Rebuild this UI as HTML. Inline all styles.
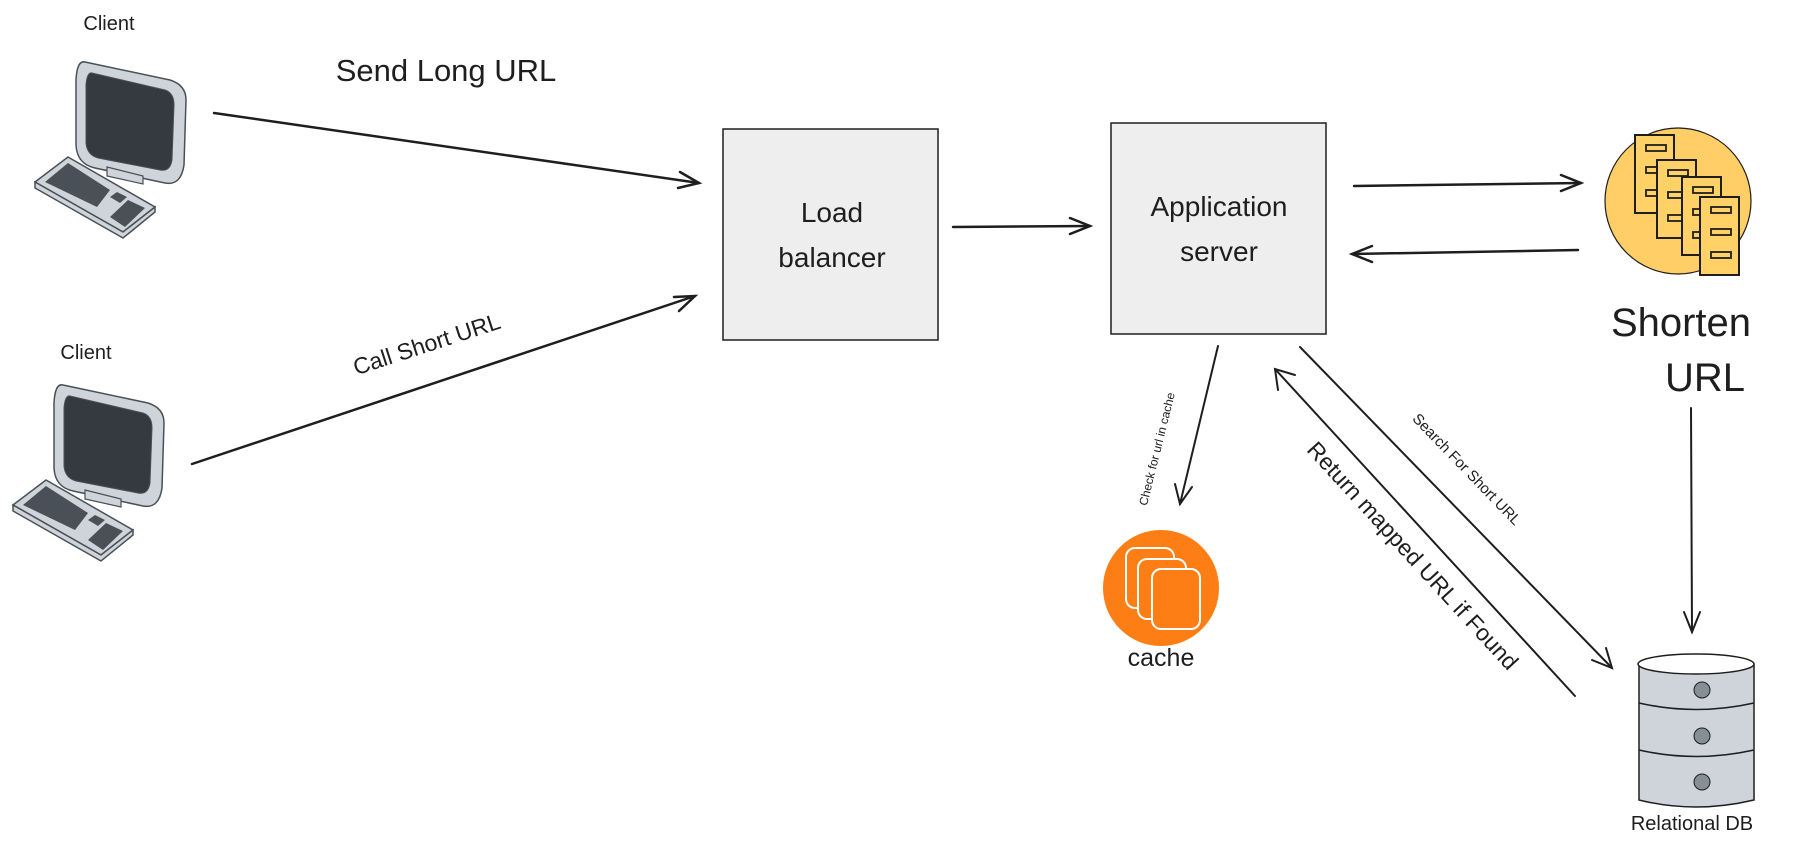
<!DOCTYPE html>
<html><head><meta charset="utf-8"><style>
html,body{margin:0;padding:0;background:#fff;}
svg{display:block;}
text{font-family:"Liberation Sans",sans-serif;fill:#1e1e1e;}
</style></head><body>
<svg width="1796" height="850" viewBox="0 0 1796 850" xmlns="http://www.w3.org/2000/svg">
<defs>
<g id="pc">
  <path d="M85,62 L170,80 Q186,85 186,100 L184,165 Q181,186 165,183 L95,168 Q77,164 76,145 L76,80 Q77,60 85,62 Z" fill="#ced4da" stroke="#495057" stroke-width="1.5"/>
  <path d="M92,73 L165,90 Q174,93 174,105 L172,160 Q170,172 160,170 L98,158 Q87,155 86,143 L86,85 Q87,72 92,73 Z" fill="#343a40" stroke="#495057" stroke-width="1"/>
  <path d="M107,167 L143,176 L143,184 L107,176 Z" fill="#ced4da" stroke="#495057" stroke-width="1.2"/>
  <path d="M35,182 L68,157 L155,207 L123,232 Z" fill="#ced4da" stroke="#495057" stroke-width="1.5"/>
  <path d="M35,182 L35,188 L123,238 L155,212 L155,207 L123,232 Z" fill="#ced4da" stroke="#495057" stroke-width="1.5"/>
  <path d="M45,182 L68,163 L110,190 L97,207 Z" fill="#495057"/>
  <path d="M110,197 L117,192 L127,197 L120,203 Z" fill="#495057"/>
  <path d="M110,217 L128,200 L145,208 L125,227 Z" fill="#495057"/>
</g>
<g id="doc">
  <rect x="0" y="0" width="39" height="78" fill="#ffd166" stroke="#1e1e1e" stroke-width="2"/>
  <rect x="11" y="10" width="20" height="6" fill="none" stroke="#1e1e1e" stroke-width="1.8"/>
  <rect x="11" y="32" width="20" height="6" fill="none" stroke="#1e1e1e" stroke-width="1.8"/>
  <rect x="11" y="55" width="20" height="6" fill="none" stroke="#1e1e1e" stroke-width="1.8"/>
</g>
</defs>

<text x="109" y="30" font-size="20" text-anchor="middle">Client</text>
<use href="#pc"/>
<text x="86" y="359" font-size="20" text-anchor="middle">Client</text>
<use href="#pc" transform="translate(-22,323)"/>

<text x="446" y="81" font-size="31" text-anchor="middle">Send Long URL</text>
<text x="427" y="352" font-size="23" text-anchor="middle" transform="rotate(-18 427 345)">Call Short URL</text>

<g stroke="#1e1e1e" stroke-width="2.5" fill="none" stroke-linecap="round">
  <path d="M214,113 L699,183"/><path d="M680,172 L699,183 L678,188"/>
  <path d="M192,464 L695,296"/><path d="M674,297 L695,296 L679,311"/>
  <path d="M953,227 L1090,226"/><path d="M1070,218 L1090,226 L1070,234"/>
  <path d="M1354,186 L1581,183"/><path d="M1561,175 L1581,183 L1561,191"/>
  <path d="M1578,250 L1352,254"/><path d="M1372,246 L1352,254 L1372,262"/>
</g>
<g stroke="#1e1e1e" stroke-width="2" fill="none" stroke-linecap="round">
  <path d="M1218,346 L1180,504"/><path d="M1175,484 L1180,504 L1192,487"/>
  <path d="M1575,696 L1275,369"/><path d="M1278,390 L1275,369 L1295,375"/>
  <path d="M1300,347 L1612,668"/><path d="M1606,648 L1612,668 L1592,660"/>
  <path d="M1691,408 L1692,632"/><path d="M1684,612 L1692,632 L1700,612"/>
</g>

<rect x="723" y="129" width="215" height="211" fill="#eeeeee" stroke="#1e1e1e" stroke-width="1.5"/>
<text x="832" y="222" font-size="28" text-anchor="middle">Load</text>
<text x="832" y="267" font-size="28" text-anchor="middle">balancer</text>
<rect x="1111" y="123" width="215" height="211" fill="#eeeeee" stroke="#1e1e1e" stroke-width="1.5"/>
<text x="1219" y="216" font-size="28" text-anchor="middle">Application</text>
<text x="1219" y="261" font-size="28" text-anchor="middle">server</text>

<circle cx="1678" cy="201" r="73" fill="#ffce66" stroke="#1e1e1e" stroke-width="1.2"/>
<use href="#doc" transform="translate(1635,135)"/>
<use href="#doc" transform="translate(1657,160)"/>
<use href="#doc" transform="translate(1682,177)"/>
<use href="#doc" transform="translate(1700,197)"/>
<text x="1681" y="336" font-size="40" text-anchor="middle">Shorten</text>
<text x="1705" y="391" font-size="40" text-anchor="middle">URL</text>

<circle cx="1161" cy="588" r="58" fill="#fd7e14"/>
<rect x="1126" y="548" width="48" height="60" rx="9" fill="#fd7e14" stroke="#fff" stroke-width="2"/>
<rect x="1138" y="559" width="48" height="60" rx="9" fill="#fd7e14" stroke="#fff" stroke-width="2"/>
<rect x="1152" y="569" width="48" height="60" rx="9" fill="#fd7e14" stroke="#fff" stroke-width="2"/>
<text x="1161" y="666" font-size="25" text-anchor="middle">cache</text>
<text x="1157" y="453" font-size="12" text-anchor="middle" transform="rotate(-76 1157 449)">Check for url in cache</text>
<text x="1407" y="561" font-size="23" text-anchor="middle" transform="rotate(47.5 1407 561)">Return mapped URL if Found</text>
<text x="1466" y="474" font-size="15" text-anchor="middle" transform="rotate(46 1466 470)">Search For Short URL</text>

<path d="M1639,664 L1639,800 Q1695,814 1754,800 L1754,664" fill="#ced4da" stroke="#1e1e1e" stroke-width="1.5"/>
<ellipse cx="1696" cy="664" rx="58" ry="10" fill="#fff" stroke="#1e1e1e" stroke-width="1.5"/>
<path d="M1639,703 Q1696,716 1754,703 M1639,750 Q1696,763 1754,750" fill="none" stroke="#1e1e1e" stroke-width="1.5"/>
<circle cx="1702" cy="690" r="8" fill="#868e96" stroke="#1e1e1e" stroke-width="1"/>
<circle cx="1702" cy="736" r="8" fill="#868e96" stroke="#1e1e1e" stroke-width="1"/>
<circle cx="1702" cy="782" r="8" fill="#868e96" stroke="#1e1e1e" stroke-width="1"/>
<text x="1692" y="830" font-size="20" text-anchor="middle">Relational DB</text>
</svg>
</body></html>
